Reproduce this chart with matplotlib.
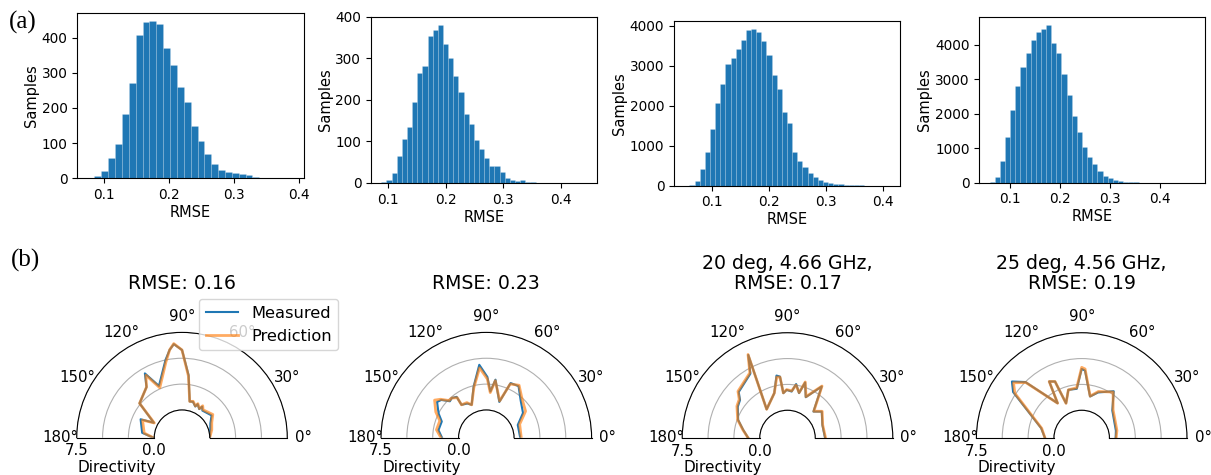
import numpy as np
import matplotlib
matplotlib.use("Agg")
import matplotlib.pyplot as plt

W, H = 1211, 475

# ---- (a) RMSE histograms: bin range and counts ----
hist_ranges = [(0.0747, 0.3918), (0.0877, 0.4460), (0.0506, 0.4124), (0.0592, 0.4701)]
hist1_counts = [1, 7, 22, 59, 98, 182, 272, 409, 444, 447, 439, 371, 322, 261, 217,
                149, 105, 68, 42, 24, 19, 14, 11, 8, 4, 2, 1, 0, 0, 1]
hist2_counts = [2, 7, 25, 65, 107, 135, 195, 265, 282, 354, 368, 381, 335, 301, 258,
                218, 165, 142, 104, 82, 60, 41, 41, 26, 11, 8, 6, 7, 2, 3,
                1, 1, 0, 0, 1, 1, 0, 1, 1, 1]
hist3_counts = [2, 15, 110, 420, 835, 1415, 2060, 2535, 3035, 3200, 3415, 3660, 3890, 3935, 3840,
                3625, 3265, 2765, 2410, 1850, 1560, 850, 615, 460, 310, 210, 140, 90, 65, 50,
                35, 20, 15, 10, 8, 5, 4, 2, 1, 1]
hist4_counts = [20, 175, 620, 1335, 2110, 2815, 3350, 3775, 4145, 4385, 4445, 4570, 4065, 3775, 3145,
                2545, 1935, 1480, 1045, 735, 540, 340, 205, 125, 70, 40, 25, 15, 8, 5,
                3, 2, 2, 1, 1, 1, 0, 0, 0, 1]
hist_counts = [hist1_counts, hist2_counts, hist3_counts, hist4_counts]

# ---- (b) directivity patterns (angle in deg, directivity) ----
p1_theta = [0, 15, 27, 37, 53, 57, 59, 65, 67, 73, 78, 84, 90, 95, 98, 102, 114, 120, 125, 141, 152, 156, 173, 180]
p1_meas = [0, 0.15, 0.4, 0.9, 0.6, 0.9, 0.55, 0.9, 0.6, 0.95, 0.9, 3.4, 5.8, 6.4, 5.9, 5.0, 2.8, 4.5, 3.3, 2.6, 0.4, 1.7, 1.2, 0.1]
p1_pred = [0, 0.3, 0.55, 1.05, 0.7, 1.0, 0.6, 0.95, 0.65, 1.0, 0.9, 3.3, 5.8, 6.45, 5.9, 4.8, 2.6, 4.3, 3.3, 2.6, 0.35, 1.5, 1.0, 0.1]

p2_theta = [0, 22, 34, 47, 58, 66, 70, 81, 85, 89, 95.5, 104, 114, 119, 127, 126, 131, 135, 140, 144, 153, 160, 171, 180]
p2_meas = [0.6, 0.6, 1.6, 2.2, 3.2, 3.1, 1.0, 3.0, 1.8, 3.2, 4.4, 2.4, 0.8, 1.1, 1.3, 2.2, 2.4, 2.3, 3.0, 3.2, 2.5, 1.9, 2.0, 1.6]
p2_pred = [0.7, 0.8, 1.9, 2.4, 3.3, 3.0, 1.1, 2.9, 1.7, 3.0, 4.1, 2.3, 0.8, 1.2, 1.3, 2.1, 2.4, 2.4, 3.1, 3.5, 2.8, 2.1, 2.2, 1.7]

p3_theta = [0, 20.5, 37.6, 45.5, 56.4, 65.9, 72.4, 75.6, 80.9, 84.9, 91, 95.3, 97, 100, 106.4, 126, 115.3, 120, 136.7, 141.3, 147.8, 159.9, 169.7, 180]
p3_meas = [0.95, 0.92, 1.5, 0.9, 3.3, 1.64, 2.95, 1.8, 2.6, 1.83, 1.97, 1.67, 3.3, 3.45, 1.84, 0.75, 6.2, 4.5, 3.8, 3.2, 3.0, 2.4, 1.67, 1.12]
p3_pred = [1.0, 0.95, 1.55, 0.95, 3.35, 1.7, 3.0, 1.85, 2.5, 1.9, 2.0, 1.7, 3.25, 3.3, 1.84, 0.75, 6.25, 4.6, 3.9, 3.3, 3.1, 2.45, 1.7, 1.12]

p4_theta = [0, 12, 24, 42, 55.6, 70.2, 78.6, 87.2, 90, 95.7, 105.5, 114.3, 115.3, 119.9, 124.7, 135.2, 141, 146.2, 166.4, 180]
p4_meas = [0.6, 0.7, 0.8, 1.3, 2.8, 2.0, 1.41, 3.85, 4.0, 2.1, 2.15, 1.0, 3.36, 3.62, 1.41, 5.0, 6.0, 5.3, 1.35, 0.87]
p4_pred = [0.65, 0.8, 0.9, 1.4, 2.7, 2.1, 1.45, 4.0, 4.15, 2.2, 2.15, 1.0, 3.36, 3.62, 1.41, 4.93, 5.8, 5.1, 1.3, 0.87]

pol_theta = [p1_theta, p2_theta, p3_theta, p4_theta]
pol_meas = [p1_meas, p2_meas, p3_meas, p4_meas]
pol_pred = [p1_pred, p2_pred, p3_pred, p4_pred]
pol_titles = ["RMSE: 0.16", "RMSE: 0.23", "20 deg, 4.66 GHz,\nRMSE: 0.17", "25 deg, 4.56 GHz,\nRMSE: 0.19"]


def rect(l, t, r, b):
    # pixel box (from top-left) -> figure fraction
    return [l / W, 1 - b / H, (r - l) / W, (b - t) / H]


def fx(x):
    return x / W


def fy(y):
    return 1 - y / H


fig = plt.figure(figsize=(W / 100, H / 100), dpi=100)

hist_boxes = [(77.3, 13.3, 304, 178.3), (371, 16.7, 597.3, 183),
              (674, 20.7, 900, 185.7), (979.3, 17.3, 1205.3, 182.7)]
for box, (lo, hi), counts in zip(hist_boxes, hist_ranges, hist_counts):
    ax = fig.add_axes(rect(*box))
    edges = np.linspace(lo, hi, len(counts) + 1)
    ax.hist(edges[:-1], bins=edges, weights=counts, color="#1f77b4",
            edgecolor=(1, 1, 1, 0.2), linewidth=0.5)
    ax.set_xticks([0.1, 0.2, 0.3, 0.4])
    ax.tick_params(labelsize=9.8)
    ax.set_xlabel("RMSE", fontsize=10.5, labelpad=2)
    ax.set_ylabel("Samples", fontsize=10.5, labelpad=2)

# polar plots: centre x, baseline y, outer radius (pixels)
pol_geo = [(182, 437.7), (486.3, 437.7), (787.5, 438), (1081.7, 438)]
R = 105.3
for i, (cx, by) in enumerate(pol_geo):
    # half-disc sits in the middle of a square axes box
    cy = by - R / 2
    ax = fig.add_axes(rect(cx - R, cy - R, cx + R, cy + R), projection="polar")
    ax.set_thetamin(0)
    ax.set_thetamax(180)
    ax.set_ylim(0, 7.5)
    ax.set_rorigin(-2.68)
    ax.set_yticks([0, 2.5, 5, 7.5])
    ax.set_yticklabels(["0.0", "", "", "7.5"])
    ax.set_xticks(np.deg2rad(np.arange(0, 181, 30)))
    ax.set_xticklabels([f"{a}°" for a in range(0, 181, 30)])
    ax.xaxis.grid(False)
    ax.yaxis.grid(True, color="#b0b0b0", lw=0.8)
    ax.tick_params(axis="x", labelsize=10.8, pad=1)
    ax.tick_params(axis="y", labelsize=10.8, labelleft=False, labelright=True, pad=0.5)
    th = np.deg2rad(pol_theta[i])
    ax.plot(th, pol_meas[i], color="#1f77b4", lw=1.5, label="Measured")
    ax.plot(th, pol_pred[i], color="#ff7f0e", lw=2, alpha=0.65, label="Prediction")
    fig.text(fx(cx - R + 40.5), fy(by + 29.5), "Directivity", fontsize=11, ha="center", va="center")
    fig.text(fx(cx), fy(273.5 if "\n" in pol_titles[i] else 283.5), pol_titles[i],
             fontsize=13.6, ha="center", va="center", linespacing=1.05)
    if i == 0:
        ax.legend(loc="upper left", bbox_to_anchor=(fx(199), fy(299)),
                  bbox_transform=fig.transFigure, borderaxespad=0, fontsize=11.7,
                  handlelength=2.0, framealpha=0.8)

fig.text(fx(23), fy(22), "(a)", fontsize=18, family=["Liberation Serif", "DejaVu Serif"], ha="center", va="center")
fig.text(fx(25), fy(260), "(b)", fontsize=18, family=["Liberation Serif", "DejaVu Serif"], ha="center", va="center")

fig.savefig("out.png", dpi=100)
